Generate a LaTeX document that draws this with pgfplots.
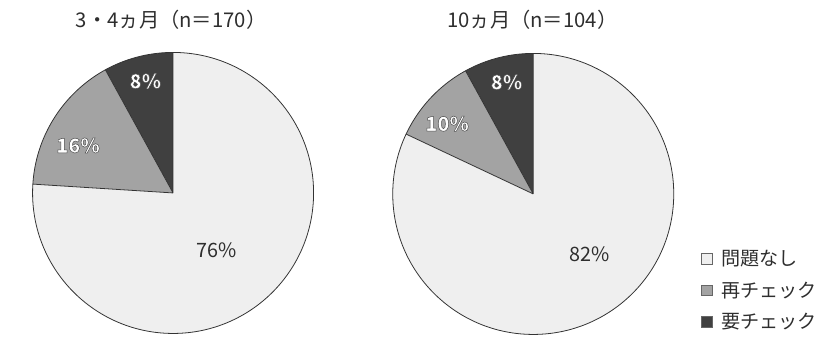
\documentclass[border=0pt]{standalone}
\usepackage{pgfplots}
\pgfplotsset{compat=1.18}
\usepackage{pgfplotstable}
\usepackage{fontspec}
\setmainfont{Noto Sans CJK JP}
% emboldened face for the hollow slice labels
\newfontfamily\hollowfont[FakeBold=2.5]{Noto Sans CJK JP}

\definecolor{okfill}{HTML}{EFEFEF}
\definecolor{recheck}{HTML}{A3A3A3}
\definecolor{needcheck}{HTML}{404040}
\definecolor{edge}{HTML}{333333}
\definecolor{txt}{HTML}{2E2E2E}

% shares in percent, in drawing order: 要チェック, 再チェック, 問題なし
\pgfplotstableread{
share
8
16
76
}\firstvisit
\pgfplotstableread{
share
8
10
82
}\secondvisit

\newcommand\R{142bp}
\newcommand\loadshares[2]{%
  \pgfplotstablegetelem{0}{share}\of#1\expandafter\let\csname #2need\endcsname\pgfplotsretval
  \pgfplotstablegetelem{1}{share}\of#1\expandafter\let\csname #2re\endcsname\pgfplotsretval
  \pgfplotstablegetelem{2}{share}\of#1\expandafter\let\csname #2ok\endcsname\pgfplotsretval
}
% hollow lettering: the embolden stroke uses the stroke colour, the glyph body the fill colour
\newcommand\outl[1]{{\hollowfont\bfseries\fontsize{20bp}{22bp}\selectfont\special{pdf:bcolor [1] [0.3]}#1\special{pdf:ecolor}}}

\begin{document}
\loadshares{\firstvisit}{L}
\loadshares{\secondvisit}{P}
\pgfmathsetmacro\LaA{90+3.6*\Lneed}\pgfmathsetmacro\LaB{\LaA+3.6*\Lre}
\pgfmathsetmacro\PaA{90+3.6*\Pneed}\pgfmathsetmacro\PaB{\PaA+3.6*\Pre}
\begin{tikzpicture}
\begin{axis}[
  x=1bp, y=1bp, xmin=0, xmax=838, ymin=0, ymax=343,
  scale only axis, axis line style={draw=none}, ticks=none, clip=false,
  legend style={at={(rel axis cs:0.8305,0.275)}, anchor=north west, draw=none, fill=none,
    font=\fontsize{19.3bp}{22bp}\selectfont\color{txt}, row sep=11bp,
    nodes={inner xsep=9bp}},
  legend cell align=left,
  legend image code/.code={\draw[#1, draw=gray!80!black, line width=0.6bp] (0bp,-5.5bp) rectangle (11bp,5.5bp);},
]
% left pie (3・4 months)
\fill[needcheck] (axis cs:166,148) -- ++(90:\R) arc[start angle=90,end angle=\LaA,radius=\R] -- cycle;
\fill[recheck] (axis cs:166,148) -- ++(\LaA:\R) arc[start angle=\LaA,end angle=\LaB,radius=\R] -- cycle;
\fill[okfill] (axis cs:166,148) -- ++(\LaB:\R) arc[start angle=\LaB,end angle=450,radius=\R] -- cycle;
\draw[edge, line width=0.8bp] (axis cs:166,148) circle[radius=\R];
\draw[edge, line width=0.8bp] (axis cs:166,148) -- ++(90:\R) (axis cs:166,148) -- ++(\LaA:\R) (axis cs:166,148) -- ++(\LaB:\R);
% right pie (10 months)
\fill[needcheck] (axis cs:530,147) -- ++(90:\R) arc[start angle=90,end angle=\PaA,radius=\R] -- cycle;
\fill[recheck] (axis cs:530,147) -- ++(\PaA:\R) arc[start angle=\PaA,end angle=\PaB,radius=\R] -- cycle;
\fill[okfill] (axis cs:530,147) -- ++(\PaB:\R) arc[start angle=\PaB,end angle=450,radius=\R] -- cycle;
\draw[edge, line width=0.8bp] (axis cs:530,147) circle[radius=\R];
\draw[edge, line width=0.8bp] (axis cs:530,147) -- ++(90:\R) (axis cs:530,147) -- ++(\PaA:\R) (axis cs:530,147) -- ++(\PaB:\R);
% slice labels
\begin{scope}[every node/.style={font=\fontsize{20bp}{22bp}\selectfont, inner sep=0pt}]
\node at (axis cs:138,261) {\outl{\Lneed\%}};
\node at (axis cs:70,196) {\outl{\Lre\%}};
\node[text=txt] at (axis cs:210,90) {\Lok\%};
\node at (axis cs:503,260) {\outl{\Pneed\%}};
\node at (axis cs:443,218) {\outl{\Pre\%}};
\node[text=txt] at (axis cs:587,86) {\Pok\%};
\end{scope}
% titles
\begin{scope}[every node/.style={text=txt, font=\fontsize{20.5bp}{22bp}\selectfont}]
\node at (axis cs:164,323) {3・4ヵ月（n＝170）};
\node at (axis cs:529,323) {10ヵ月（n＝104）};
\end{scope}
% legend
\addlegendimage{fill=okfill}
\addlegendentry{問題なし}
\addlegendimage{fill=recheck}
\addlegendentry{再チェック}
\addlegendimage{fill=needcheck}
\addlegendentry{要チェック}
\end{axis}
\end{tikzpicture}
\end{document}
